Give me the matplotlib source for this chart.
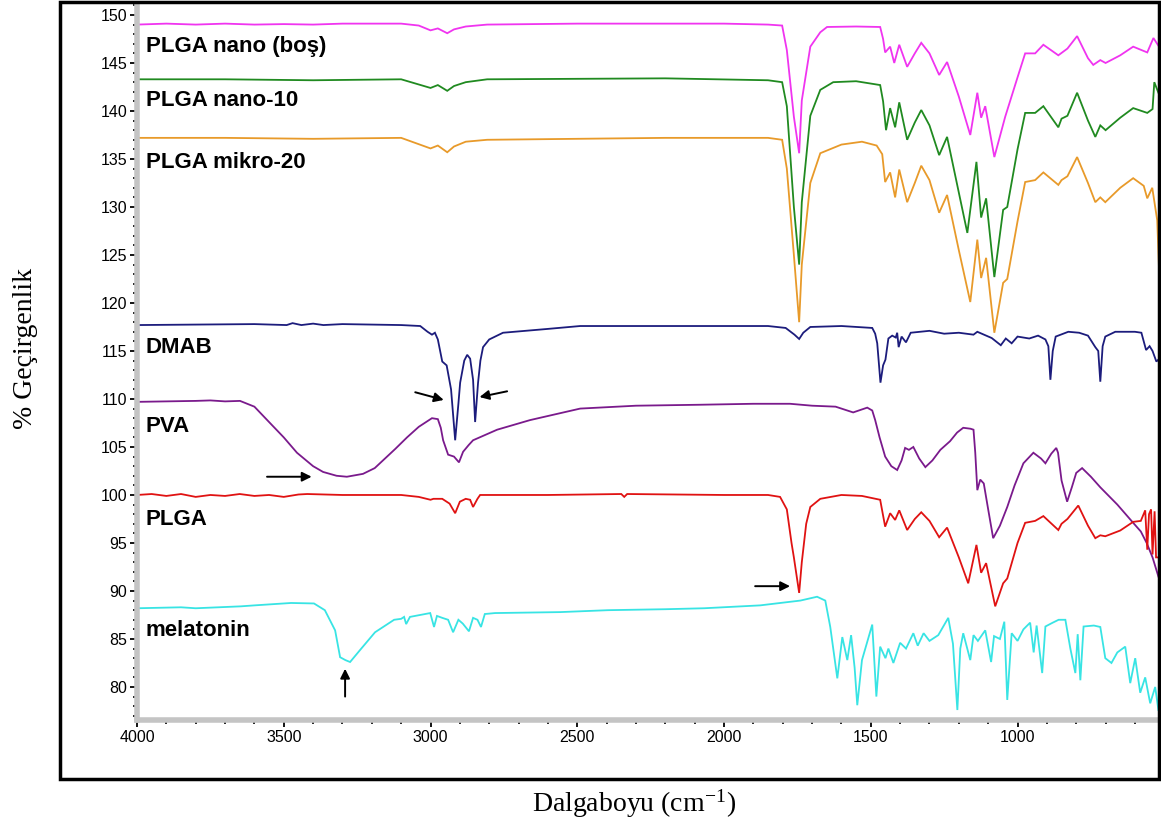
import matplotlib
matplotlib.use("Agg")
import matplotlib.pyplot as plt
from matplotlib.patches import Rectangle
from matplotlib.ticker import MultipleLocator

# ---------------- data ----------------
nano_bos_wn = [4000, 3900, 3800, 3700, 3600, 3500, 3400, 3300, 3100, 3040, 3000, 2975, 2943, 2920, 2880, 2807,
               2500, 2200, 2000, 1850, 1802, 1786, 1762, 1744, 1735, 1706, 1672, 1649, 1550, 1468, 1458, 1451,
               1434, 1420, 1403, 1376, 1350, 1328, 1300, 1267, 1240, 1200, 1161, 1137, 1124, 1110, 1079, 1042,
               1000, 974, 940, 912, 861, 830, 797, 760, 742, 718, 700, 650, 606, 558, 537, 520]
nano_bos_t = [149.0, 149.1, 149.0, 149.1, 149.0, 149.05, 149.0, 149.1, 149.1, 148.9, 148.4, 148.6, 148.1, 148.5,
              148.8, 149.0, 149.1, 149.1, 149.1, 149.0, 148.9, 146.35, 139.4, 135.6, 141.1, 146.7, 148.2, 148.75,
              148.8, 148.75, 147.5, 146.1, 146.7, 145.0, 146.9, 144.6, 146.0, 147.1, 146.0, 143.75, 145.1, 141.5,
              137.5, 141.9, 139.3, 140.5, 135.2, 139.4, 143.5, 146.0, 146.0, 146.9, 145.8, 146.5, 147.8, 145.5,
              144.8, 145.3, 145.0, 145.8, 146.7, 146.1, 147.6, 146.8]

nano10_wn = [4000, 3700, 3400, 3100, 3000, 2975, 2943, 2920, 2880, 2807, 2200, 1850, 1802, 1786, 1762, 1744,
             1735, 1706, 1672, 1628, 1550, 1468, 1458, 1448, 1434, 1417, 1403, 1376, 1350, 1328, 1300, 1267,
             1240, 1200, 1171, 1140, 1124, 1107, 1079, 1049, 1035, 1000, 974, 940, 912, 861, 850, 830, 797, 760,
             735, 718, 700, 650, 606, 558, 540, 534, 520]
nano10_t = [143.3, 143.3, 143.2, 143.3, 142.4, 142.7, 142.1, 142.6, 143.0, 143.3, 143.4, 143.2, 143.0, 140.5,
            130.0, 124.0, 130.5, 139.5, 142.2, 143.0, 143.1, 142.7, 141.0, 138.0, 140.3, 138.3, 140.9, 137.0,
            138.8, 140.1, 138.5, 135.4, 137.3, 131.5, 127.3, 134.7, 128.9, 130.9, 122.7, 129.7, 130.0, 136.0,
            139.8, 139.8, 140.5, 138.3, 139.2, 139.5, 141.9, 139.0, 137.3, 138.5, 138.0, 139.3, 140.3, 139.8,
            140.2, 143.0, 141.9]

mikro20_wn = [4000, 3700, 3400, 3100, 3000, 2975, 2943, 2920, 2880, 2807, 2200, 1850, 1802, 1786, 1762, 1744,
              1735, 1706, 1672, 1600, 1530, 1480, 1461, 1451, 1434, 1417, 1403, 1376, 1350, 1328, 1300, 1267,
              1240, 1200, 1161, 1137, 1124, 1107, 1079, 1049, 1035, 1000, 974, 940, 912, 861, 850, 830, 797,
              760, 735, 718, 701, 650, 606, 570, 558, 541, 524, 518]
mikro20_t = [137.2, 137.2, 137.1, 137.2, 136.1, 136.4, 135.7, 136.3, 136.8, 137.0, 137.2, 137.2, 137.0, 134.0,
             125.0, 118.0, 124.0, 132.5, 135.6, 136.5, 136.8, 136.4, 135.5, 132.6, 133.6, 131.0, 133.9, 130.5,
             132.5, 134.3, 132.8, 129.4, 131.25, 125.5, 120.1, 126.6, 122.6, 124.7, 116.9, 122.1, 122.5, 128.5,
             132.6, 132.8, 133.6, 132.3, 132.8, 133.2, 135.2, 132.5, 130.5, 131.0, 130.5, 132.0, 133.0, 132.2,
             130.9, 132.0, 128.6, 123.6]

dmab_wn = [4000, 3800, 3600, 3490, 3470, 3440, 3400, 3365, 3300, 3100, 3035, 3010, 2995, 2985, 2975, 2960, 2945,
           2930, 2916, 2905, 2899, 2885, 2875, 2865, 2855, 2848, 2838, 2830, 2821, 2800, 2753, 2600, 2490, 2300,
           2081, 1850, 1790, 1760, 1744, 1730, 1706, 1600, 1495, 1485, 1478, 1467, 1458, 1450, 1440, 1427, 1415,
           1410, 1405, 1395, 1380, 1364, 1300, 1250, 1200, 1150, 1137, 1088, 1057, 1040, 1020, 1000, 960, 930,
           905, 895, 888, 880, 870, 827, 790, 760, 735, 725, 718, 710, 701, 667, 600, 578, 562, 550, 540, 527, 520]
dmab_t = [117.7, 117.75, 117.8, 117.7, 117.9, 117.7, 117.85, 117.7, 117.8, 117.7, 117.6, 117.0, 116.7, 116.9,
          116.2, 113.9, 113.5, 111.0, 105.7, 109.5, 111.7, 114.0, 114.6, 114.2, 112.0, 107.6, 111.7, 114.0, 115.4,
          116.2, 116.9, 117.3, 117.6, 117.6, 117.6, 117.6, 117.4, 116.7, 116.25, 116.9, 117.5, 117.6, 117.4, 116.8,
          115.8, 111.7, 113.5, 114.1, 116.3, 116.6, 116.4, 116.9, 115.4, 116.5, 115.9, 116.9, 117.1, 116.8, 116.9,
          116.7, 117.0, 116.35, 115.6, 116.3, 115.8, 116.5, 116.3, 116.6, 116.2, 115.5, 112.0, 115.0, 116.5, 117.0,
          116.9, 116.6, 115.4, 115.0, 111.8, 115.5, 116.5, 117.0, 117.0, 116.9, 115.1, 115.5, 115.0, 113.9, 114.1]

pva_wn = [4000, 3900, 3800, 3750, 3700, 3649, 3600, 3547, 3500, 3455, 3400, 3366, 3320, 3285, 3230, 3190, 3162,
          3120, 3080, 3040, 2995, 2975, 2965, 2957, 2940, 2920, 2903, 2889, 2870, 2855, 2773, 2661, 2490, 2300,
          2081, 1900, 1775, 1700, 1620, 1560, 1512, 1495, 1485, 1470, 1451, 1430, 1410, 1395, 1383, 1370, 1355,
          1335, 1314, 1290, 1263, 1230, 1206, 1185, 1160, 1150, 1144, 1137, 1127, 1115, 1100, 1083, 1060, 1035,
          1010, 980, 946, 920, 905, 885, 868, 862, 850, 831, 815, 800, 780, 750, 718, 660, 606, 580, 560, 540, 520]
pva_t = [109.7, 109.75, 109.8, 109.85, 109.75, 109.8, 109.2, 107.5, 106.0, 104.4, 103.0, 102.4, 102.0, 101.9,
         102.2, 102.8, 103.6, 104.8, 106.0, 107.1, 108.0, 107.9, 107.0, 105.7, 104.2, 104.0, 103.4, 104.5, 105.2,
         105.7, 106.8, 107.8, 109.0, 109.3, 109.4, 109.5, 109.5, 109.3, 109.2, 108.6, 109.1, 108.8, 107.8, 106.0,
         104.0, 103.0, 102.6, 103.6, 104.9, 104.7, 105.0, 103.8, 102.9, 103.6, 104.7, 105.6, 106.5, 107.0, 106.9,
         106.8, 104.4, 100.5, 101.6, 101.2, 98.5, 95.5, 96.8, 98.75, 101.0, 103.3, 104.4, 103.8, 103.3, 104.3,
         104.9, 104.4, 101.5, 99.3, 100.8, 102.3, 102.8, 101.9, 100.8, 99.0, 97.1, 96.2, 95.0, 93.5, 91.5]

plga_wn = [4000, 3950, 3900, 3850, 3800, 3750, 3700, 3650, 3600, 3550, 3500, 3450, 3420, 3300, 3100, 3040, 3000,
           2990, 2960, 2935, 2916, 2900, 2880, 2865, 2855, 2840, 2831, 2600, 2350, 2340, 2330, 2000, 1850, 1809,
           1786, 1770, 1762, 1744, 1735, 1720, 1706, 1672, 1600, 1530, 1468, 1451, 1434, 1417, 1403, 1376, 1350,
           1328, 1300, 1267, 1240, 1200, 1168, 1140, 1124, 1107, 1076, 1049, 1035, 1000, 974, 940, 912, 861, 850,
           830, 793, 760, 735, 718, 701, 650, 606, 580, 565, 558, 552, 545, 540, 533, 528, 520]
plga_t = [100.0, 100.1, 99.9, 100.1, 99.8, 100.0, 99.9, 100.1, 99.9, 100.0, 99.8, 100.05, 100.1, 100.0, 100.0,
          99.8, 99.5, 99.6, 99.6, 99.1, 98.1, 99.3, 99.6, 99.5, 98.75, 99.6, 100.0, 100.0, 100.1, 99.8, 100.1,
          100.0, 100.0, 99.8, 98.5, 95.0, 93.5, 89.8, 93.0, 97.0, 98.75, 99.6, 100.0, 99.9, 99.5, 96.7, 98.1, 97.4,
          98.4, 96.35, 97.5, 98.2, 97.3, 95.6, 96.6, 93.5, 90.8, 94.8, 91.9, 92.9, 88.4, 90.8, 91.3, 95.0, 97.1,
          97.3, 97.8, 96.35, 97.0, 97.5, 98.9, 96.8, 95.5, 95.8, 95.7, 96.3, 97.2, 97.3, 98.4, 94.3, 98.0, 98.5,
          93.8, 98.3, 93.5, 93.5]

mel_wn = [4000, 3850, 3800, 3646, 3600, 3475, 3397, 3360, 3325, 3308, 3290, 3274, 3240, 3189, 3124, 3100, 3090,
          3083, 3070, 3001, 2988, 2978, 2960, 2940, 2923, 2905, 2890, 2869, 2855, 2840, 2828, 2815, 2780, 2558,
          2395, 2200, 2068, 1877, 1740, 1683, 1655, 1638, 1614, 1597, 1580, 1567, 1555, 1546, 1530, 1495, 1481,
          1468, 1450, 1440, 1423, 1400, 1380, 1355, 1340, 1320, 1300, 1270, 1236, 1220, 1205, 1195, 1185, 1161,
          1150, 1135, 1110, 1090, 1080, 1060, 1045, 1035, 1020, 1000, 980, 957, 945, 935, 916, 905, 880, 860,
          837, 820, 803, 795, 786, 775, 740, 718, 701, 680, 660, 633, 616, 599, 582, 565, 548, 531, 520]
mel_t = [88.2, 88.3, 88.2, 88.4, 88.5, 88.75, 88.7, 88.0, 85.9, 83.1, 82.8, 82.6, 83.85, 85.7, 87.0, 87.1, 87.3,
         86.55, 87.3, 87.7, 86.25, 87.4, 87.2, 87.0, 85.7, 87.0, 86.6, 85.8, 87.2, 87.0, 86.25, 87.6, 87.7, 87.8,
         88.0, 88.1, 88.2, 88.5, 89.0, 89.4, 89.0, 86.25, 80.9, 85.2, 82.8, 85.4, 82.0, 78.1, 82.8, 86.5, 79.0,
         84.2, 83.0, 84.0, 82.5, 84.6, 84.0, 85.6, 84.3, 85.6, 84.8, 85.4, 87.2, 84.5, 77.6, 84.0, 85.6, 82.8,
         85.4, 84.8, 85.9, 82.6, 85.3, 85.0, 86.8, 78.65, 85.6, 84.8, 86.0, 86.7, 83.6, 86.4, 81.45, 86.3, 86.7,
         87.0, 87.0, 84.0, 81.45, 85.5, 80.7, 86.3, 86.4, 86.25, 83.0, 82.5, 83.6, 84.2, 80.4, 83.0, 79.4, 81.0,
         78.3, 80.0, 77.6]

series_names = ["PLGA nano (boş)", "PLGA nano-10", "PLGA mikro-20", "DMAB", "PVA", "PLGA", "melatonin"]
series_wn = [nano_bos_wn, nano10_wn, mikro20_wn, dmab_wn, pva_wn, plga_wn, mel_wn]
series_t = [nano_bos_t, nano10_t, mikro20_t, dmab_t, pva_t, plga_t, mel_t]
series_colors = ["#f034f0", "#208a20", "#e89a2a", "#1c1c7c", "#7a1a8c", "#e01212", "#38e4e4"]
label_y = [146.7, 141.1, 134.6, 115.4, 107.1, 97.4, 85.9]

# arrows: (tail_wn, tail_t, head_wn, head_t)
arrows = [(3052, 110.7, 2955, 109.9),
          (2739, 110.8, 2833, 110.2),
          (3557, 101.9, 3405, 101.9),
          (1894, 90.5, 1775, 90.5),
          (3291, 79.0, 3291, 81.9)]

x_ticks = [4000, 3500, 3000, 2500, 2000, 1500, 1000]
y_ticks = [80, 85, 90, 95, 100, 105, 110, 115, 120, 125, 130, 135, 140, 145, 150]

# ---------------- figure ----------------
plt.rcParams['mathtext.fontset'] = 'stix'
W, H = 1161, 831
fig = plt.figure(figsize=(W / 100, H / 100), dpi=100)
ax = fig.add_axes([137 / W, 1 - 720 / H, (1159 - 137) / W, (720 - 5) / H])

for wn, t, c in zip(series_wn, series_t, series_colors):
    ax.plot(wn, t, color=c, lw=1.3, solid_joinstyle='miter')

for name, yy in zip(series_names, label_y):
    ax.text(3970, yy, name, fontsize=16, fontweight='bold', color='black',
            family=['Liberation Sans', 'DejaVu Sans'], va='center', ha='left')

for tx, ty, hx, hy in arrows:
    ax.annotate('', xy=(hx, hy), xytext=(tx, ty),
                arrowprops=dict(arrowstyle='-|>', color='black', lw=1.4, mutation_scale=14,
                                shrinkA=0, shrinkB=0))

ax.set_xlim(4000, 518)
ax.set_ylim(76.56, 151.04)
ax.set_xticks(x_ticks)
ax.set_yticks(y_ticks)
ax.xaxis.set_minor_locator(MultipleLocator(100))
ax.yaxis.set_minor_locator(MultipleLocator(1))

for s in ['top', 'right']:
    ax.spines[s].set_visible(False)
for s in ['left', 'bottom']:
    ax.spines[s].set_color('#c4c4c4')
    ax.spines[s].set_linewidth(4)

ax.tick_params(which='major', direction='out', length=5, width=1.3, color='black', labelsize=11.5, pad=2)
ax.tick_params(which='minor', direction='out', length=3, width=1.2, color='black')
for lab in ax.get_xticklabels() + ax.get_yticklabels():
    lab.set_family(['Liberation Sans Narrow', 'Liberation Sans', 'DejaVu Sans'])

# outer frame
fig.add_artist(Rectangle((60 / W, 1 - 779 / H), (1159 - 60) / W, (779 - 2) / H, transform=fig.transFigure,
                         fill=False, edgecolor='black', lw=2.5, clip_on=False))

fig.text(25 / W, 1 - 348 / H, '% Geçirgenlik', rotation=90, ha='center', va='center',
         fontsize=20, family=['Liberation Serif', 'DejaVu Serif'])
fig.text(634 / W, 1 - 803 / H, r'Dalgaboyu (cm$^{\mathregular{-1}}$)', ha='center', va='center',
         fontsize=20, family=['Liberation Serif', 'DejaVu Serif'])

fig.savefig('out.png', dpi=100)
